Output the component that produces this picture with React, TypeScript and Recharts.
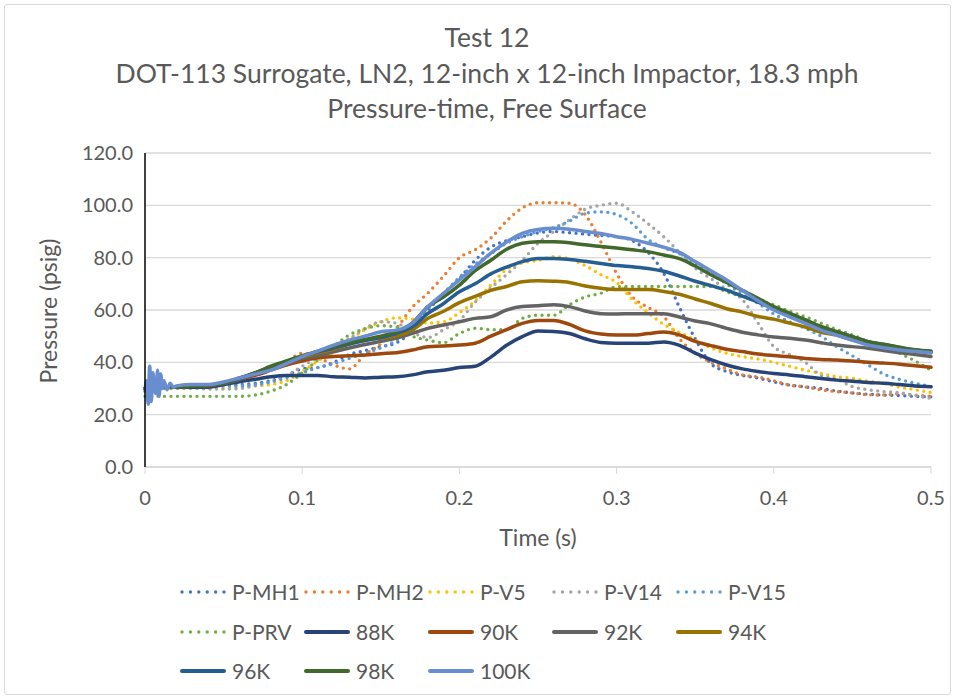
import React from "react";
import {
  LineChart,
  Line,
  XAxis,
  YAxis,
  CartesianGrid,
} from "recharts";

// time axis (s)
const time = [
  0, 0.01, 0.02, 0.03, 0.04, 0.05, 0.06, 0.07, 0.08, 0.09,
  0.1, 0.11, 0.12, 0.13, 0.14, 0.15, 0.16, 0.17, 0.18, 0.19,
  0.2, 0.21, 0.22, 0.23, 0.24, 0.25, 0.26, 0.27, 0.28, 0.29,
  0.3, 0.31, 0.32, 0.33, 0.34, 0.35, 0.36, 0.37, 0.38, 0.39,
  0.4, 0.41, 0.42, 0.43, 0.44, 0.45, 0.46, 0.47, 0.48, 0.49, 0.5,
];

// measured pressures (psig)
const pMH1 = [
  30, 30.5, 30.5, 31, 31, 31, 31.5, 32, 33, 35,
  37.5, 38, 40, 43, 44.5, 46, 47.5, 52, 60, 66,
  72, 79, 84, 86.5, 88, 89.5, 90, 89.5, 89, 88.5,
  88, 86.5, 82, 74, 61, 49, 39.5, 36.5, 35, 34,
  32.5, 31.3, 30.6, 30, 29, 28.3, 27.8, 27.5, 27.3, 27, 26.8,
];
const pMH2 = [
  30, 30.5, 30.5, 31, 31, 31.5, 33, 35, 37, 40,
  43.5, 42, 39, 37.5, 43, 47, 53, 61, 66.5, 73,
  80, 83, 87.5, 94, 99, 101, 101, 100.8, 96.5, 86,
  74, 65, 61, 57.5, 49, 43.5, 40, 37.5, 35.2, 34.4,
  33, 31.3, 30.6, 29.5, 28.8, 28.3, 27.6, 27.5, 28, 27.5, 27,
];
const pV5 = [
  30, 30, 30, 30, 30, 30, 30.5, 31, 31.5, 33,
  36.5, 40.5, 44, 48.5, 52.5, 55.5, 57, 56.5, 55, 55.5,
  59, 63.5, 69.5, 75.5, 78, 79, 80.4, 79.5, 77, 73.5,
  70.5, 64, 59, 54.5, 51.5, 48.5, 45.5, 43.5, 42.2, 41.3,
  40, 38.5, 37, 35.8, 34.5, 33.9, 32.8, 32, 30.5, 29.5, 28.5,
];
const pV14 = [
  30, 30, 30, 30, 29.8, 29.8, 30, 31, 32.5, 35,
  38.5, 42, 45.5, 49, 53, 55.5, 55, 51.5, 49.5, 52.5,
  56, 63, 68.5, 73.5, 79, 85.5, 90, 94.5, 98.5, 100,
  100.8, 97.5, 93, 88, 82, 76, 72, 67.8, 64, 55,
  46, 43, 40, 35, 33.5, 30.7, 29.5, 28.8, 28.4, 27.3, 26.2,
];
const pV15 = [
  30, 30.5, 30.5, 31, 31, 31, 31, 31.5, 32.5, 34,
  36, 38, 39.5, 41.5, 43.5, 45.5, 48.5, 53.5, 60.5, 66.5,
  72.5, 77.5, 81.5, 85.5, 88, 90, 91.5, 94, 97, 97.5,
  96.5, 93, 87, 83.8, 81.5, 78, 74, 70, 66, 62.5,
  58.5, 55.5, 53, 50, 46, 42.5, 39, 35.5, 33.5, 32, 30.7,
];
const pPRV = [
  27, 27, 27, 27, 27, 27, 27, 27.5, 29, 31.5,
  36, 41, 46, 50.5, 52.8, 54, 53.5, 50, 48.5, 47.5,
  51, 53, 52.5, 52.5, 56.8, 58, 58, 62, 65, 66.4,
  68.9, 69, 69, 69, 69, 69, 69, 67, 65, 63.5,
  62, 59.5, 57.4, 55, 52.5, 50.5, 48, 46.5, 43.5, 40.5, 37,
];

// simulated pressures (psig)
const k88 = [
  30, 30.5, 30.5, 30.5, 30.5, 31.5, 32.6, 33.5, 34.5, 35,
  35, 35, 34.5, 34.3, 34, 34.3, 34.5, 35.2, 36.4, 37,
  38, 38.5, 42, 46.5, 49.8, 52, 51.8, 51, 49, 47.6,
  47.3, 47.3, 47.3, 47.8, 46.5, 43.5, 41, 39, 37.5, 36.5,
  35.7, 35.2, 34.5, 33.8, 33.2, 32.8, 32.3, 32, 31.5, 31, 30.7,
];
const k90 = [
  30, 30.5, 30.5, 31, 31, 32, 33.5, 35, 37, 39,
  40.5, 41.7, 42.2, 42.5, 42.8, 43.3, 43.7, 44.7, 46, 46.2,
  46.6, 47.3, 50, 52.5, 54.9, 56, 56, 54.5, 52, 50.8,
  50.4, 50.4, 51, 51.6, 50.5, 48, 46.4, 45, 44.1, 43.2,
  42.6, 42.1, 41.5, 41.1, 40.9, 40.5, 40, 39.7, 39.3, 38.7, 38.1,
];
const k92 = [
  30, 30.5, 30.5, 31, 31.2, 32, 33.5, 35.5, 37.5, 39.5,
  41.5, 42.5, 44, 45.5, 46.8, 48, 49.3, 51.1, 53, 54.3,
  55.5, 56.8, 57.4, 60, 61.3, 61.6, 62, 61.3, 59.6, 58.6,
  58.5, 58.6, 58.6, 58.6, 57.3, 55.8, 54.7, 53, 51.5, 50.5,
  49.7, 49.2, 48.5, 47.5, 46.6, 46, 45.4, 44.5, 43.7, 43, 42.2,
];
const k94 = [
  30, 30.5, 30.5, 31, 31.2, 32, 33.8, 35.8, 38, 40,
  42, 43.5, 45, 47, 48.5, 49.2, 50, 52.3, 56.8, 59.5,
  62.8, 65.2, 67.5, 69, 70.8, 71.2, 71, 70.5, 69.2, 68.3,
  67.8, 67.8, 67.8, 67.1, 66, 64.2, 62.5, 60.5, 59.2, 57.5,
  56.5, 55, 53.5, 51.5, 50.4, 48.5, 47.3, 46.3, 45.2, 44.3, 43.7,
];
const k96 = [
  30, 30.5, 30.5, 31, 31.2, 32, 33.8, 36, 38.2, 40.3,
  42.3, 44, 45.5, 47, 48.3, 49.5, 51.1, 53.6, 58.7, 62.5,
  67, 70, 73.8, 76.4, 78.5, 79.7, 79.7, 79.3, 78.6, 77.8,
  77, 76.5, 75.9, 74.8, 73, 71, 69.3, 67.6, 65.3, 63,
  60.5, 58.5, 56.2, 53.5, 51.7, 49.8, 47.9, 46.8, 45.7, 44.7, 44,
];
const k98 = [
  30, 30.5, 30.5, 31, 31.2, 32, 34, 36, 38.5, 40.5,
  42.5, 44.3, 46, 47.5, 48.8, 50, 51.7, 55, 61.3, 65,
  69.5, 75, 79, 83.2, 85.5, 86.1, 86.1, 85.7, 84.9, 84.3,
  83.7, 83, 82.3, 81, 79.6, 76.8, 73.5, 70.5, 67.5, 64.5,
  61.3, 58.8, 56.2, 53.7, 51.7, 49.8, 47.9, 46.9, 45.8, 44.8, 44.3,
];
const k100 = [
  31, 31, 31, 31.5, 31.5, 32.5, 34, 35.5, 37, 39.5,
  42.2, 44.3, 46.6, 48.5, 50, 51.7, 52.3, 54.9, 61.3, 66.4,
  71.5, 76.5, 81.7, 86, 89.3, 90.8, 91.2, 90.9, 90, 89.2,
  88, 87, 85.5, 84, 82, 78.5, 75, 71.5, 67.5, 63.5,
  60, 57.4, 54.9, 52.3, 50.4, 48.5, 46.6, 45.6, 44.7, 44.2, 43.7,
];

// start-up ringing on the 100K trace
const noiseTime = [
  0, 0.001, 0.002, 0.003, 0.004, 0.005, 0.006, 0.007, 0.008, 0.009,
  0.01, 0.011, 0.012, 0.014, 0.016, 0.018,
];
const noise100K = [
  29, 33, 24, 38.5, 25, 36, 30, 28, 37, 27,
  35.5, 30, 33, 29.5, 32, 30.5,
];

const yTicks = [0, 20, 40, 60, 80, 100, 120];
const xTicks = [0, 0.1, 0.2, 0.3, 0.4, 0.5];

const toData = (values: number[]) => time.map((t, i) => ({ t, p: values[i] }));

const data100K = [
  ...noiseTime.map((t, i) => ({ t, p: noise100K[i] })),
  ...toData(k100).filter((d) => d.t >= 0.02),
];

const series = [
  { name: "P-MH1", values: pMH1, color: "#4472C4", dotted: true },
  { name: "P-MH2", values: pMH2, color: "#ED7D31", dotted: true },
  { name: "P-V5", values: pV5, color: "#FFC000", dotted: true },
  { name: "P-V14", values: pV14, color: "#A5A5A5", dotted: true },
  { name: "P-V15", values: pV15, color: "#5B9BD5", dotted: true },
  { name: "P-PRV", values: pPRV, color: "#70AD47", dotted: true },
  { name: "88K", values: k88, color: "#264478", dotted: false },
  { name: "90K", values: k90, color: "#9E480E", dotted: false },
  { name: "92K", values: k92, color: "#636363", dotted: false },
  { name: "94K", values: k94, color: "#997300", dotted: false },
  { name: "96K", values: k96, color: "#255E91", dotted: false },
  { name: "98K", values: k98, color: "#43682B", dotted: false },
  { name: "100K", values: k100, color: "#698ED0", dotted: false },
];

const FONT = "Lato, 'Open Sans', sans-serif";
const TEXT = "#595959";

const LegendMark = ({ color, dotted }: { color: string; dotted: boolean }) => (
  <svg width={46} height={10} style={{ display: "block" }}>
    {dotted ? (
      <line x1={2} y1={5} x2={44} y2={5} stroke={color} strokeWidth={3.4}
        strokeLinecap="round" strokeDasharray="0 8.4" />
    ) : (
      <line x1={2} y1={5} x2={44} y2={5} stroke={color} strokeWidth={4}
        strokeLinecap="round" />
    )}
  </svg>
);

export default function App() {
  const titleStyle: React.CSSProperties = {
    position: "absolute",
    left: 0,
    width: 974,
    textAlign: "center",
    fontFamily: FONT,
    fontSize: 26.5,
    color: TEXT,
    lineHeight: "30px",
  };

  return (
    <div style={{ position: "absolute", left: 0, top: 0, width: 954, height: 698, background: "#fff" }}>
      <div style={{ position: "absolute", left: 4, top: 4, width: 945, height: 689, border: "1px solid #D9D9D9", borderRadius: 3 }} />
      <div style={{ ...titleStyle, top: 22 }}>Test 12</div>
      <div style={{ ...titleStyle, top: 58 }}>DOT-113 Surrogate, LN2, 12-inch x 12-inch Impactor, 18.3 mph</div>
      <div style={{ ...titleStyle, top: 93 }}>Pressure-time, Free Surface</div>

      <div style={{ position: "absolute", left: 0, top: 0 }}>
        <LineChart width={954} height={560} margin={{ top: 153, right: 23, left: 85, bottom: 63 }}>
          <CartesianGrid vertical={false} stroke="#D9D9D9" strokeWidth={1.3} />
          <XAxis
            type="number"
            dataKey="t"
            domain={[0, 0.5]}
            ticks={xTicks}
            allowDuplicatedCategory={false}
            height={30}
            axisLine={{ stroke: "#D9D9D9", strokeWidth: 1.3 }}
            tickLine={{ stroke: "#D9D9D9" }}
            tickSize={7}
            tickMargin={17}
            tick={{ fill: TEXT, fontSize: 20, fontFamily: FONT }}
            tickFormatter={(v: number) => (v === 0 ? "0" : v.toFixed(1))}
          />
          <YAxis
            type="number"
            domain={[0, 120]}
            ticks={yTicks}
            width={60}
            axisLine={{ stroke: "#000", strokeWidth: 1.5 }}
            tickLine={false}
            tickMargin={6}
            tick={{ fill: TEXT, fontSize: 20, fontFamily: FONT }}
            tickFormatter={(v: number) => v.toFixed(1)}
          />
          {series.map((s) => (
            <Line
              key={s.name}
              data={s.name === "100K" ? data100K : toData(s.values)}
              dataKey="p"
              name={s.name}
              type="monotone"
              stroke={s.color}
              strokeWidth={s.dotted ? 3.4 : 3.5}
              strokeDasharray={s.dotted ? "0 6.5" : undefined}
              strokeLinecap="round"
              dot={false}
              activeDot={false}
              isAnimationActive={false}
            />
          ))}
        </LineChart>
      </div>

      <div style={{ position: "absolute", left: 0, top: 0, width: 96, height: 620 }}>
        <div style={{
          position: "absolute", left: 48, top: 311, transform: "translate(-50%, -50%) rotate(-90deg)",
          whiteSpace: "nowrap", fontFamily: FONT, fontSize: 23, color: TEXT,
        }}>Pressure (psig)</div>
      </div>
      <div style={{
        position: "absolute", left: 0, width: 1076, top: 523, textAlign: "center",
        fontFamily: FONT, fontSize: 23, color: TEXT, lineHeight: "28px",
      }}>Time (s)</div>

      {series.map((s, i) => (
        <div key={s.name} style={{
          position: "absolute",
          left: 180 + (i % 5) * 124,
          top: 579 + Math.floor(i / 5) * 39.5,
          display: "flex", alignItems: "center", gap: 6,
          fontFamily: FONT, fontSize: 21, color: TEXT, lineHeight: "26px",
        }}>
          <LegendMark color={s.color} dotted={s.dotted} />
          <span>{s.name}</span>
        </div>
      ))}
    </div>
  );
}
